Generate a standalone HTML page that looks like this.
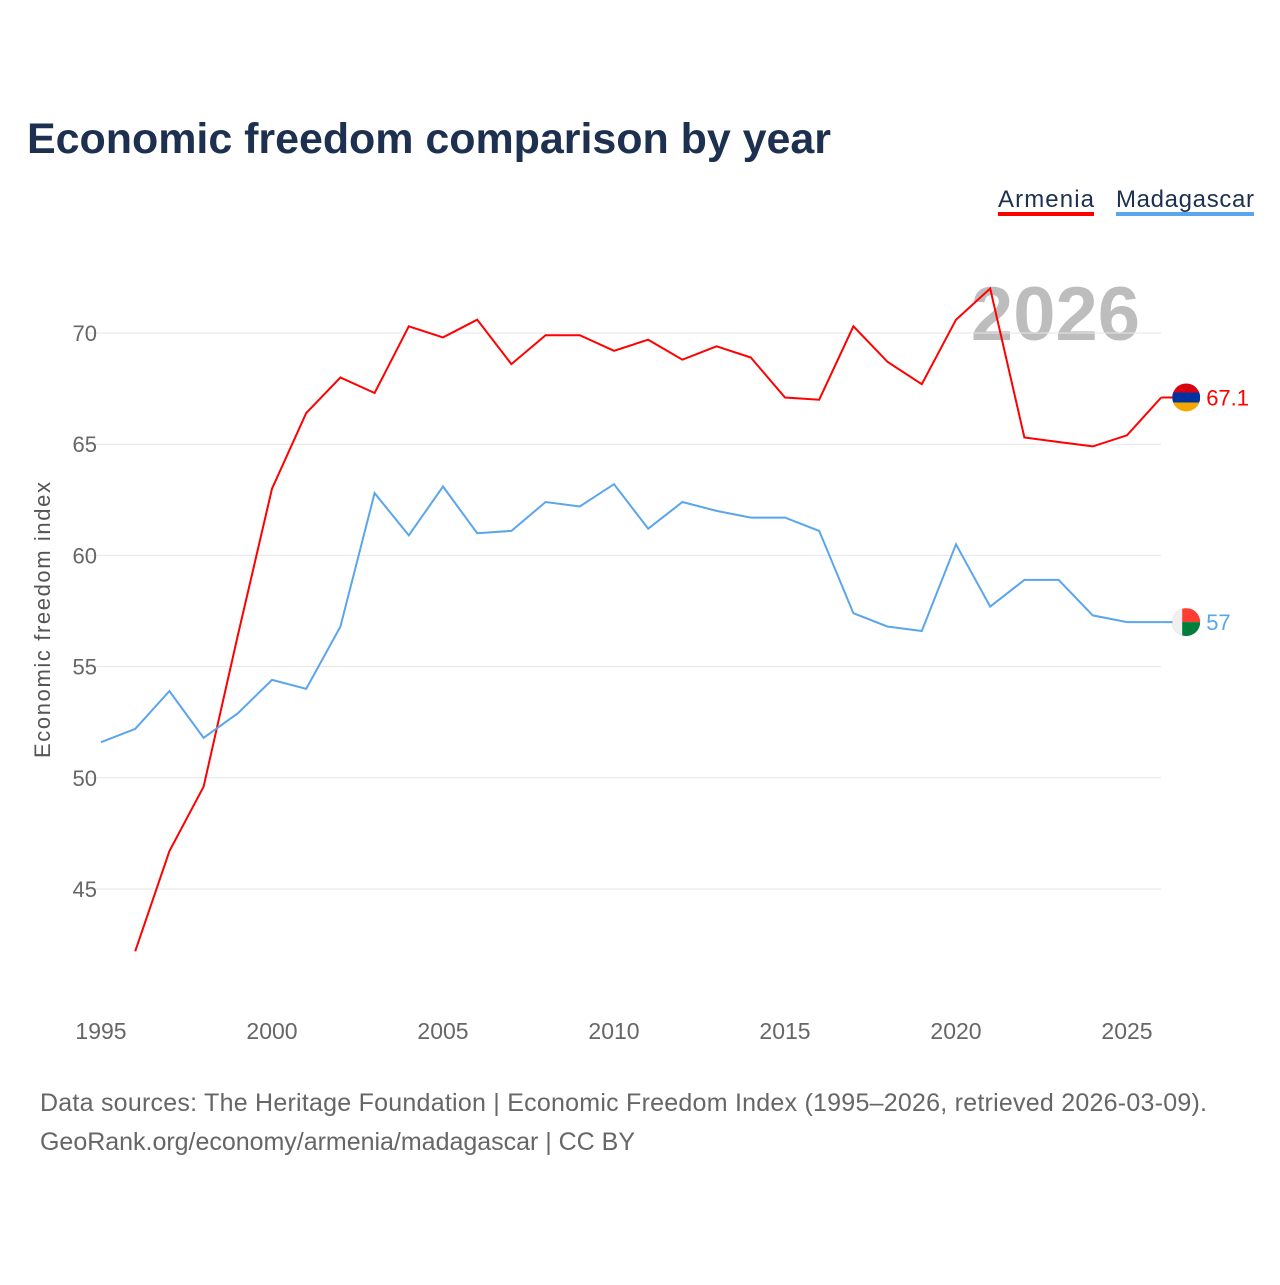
<!DOCTYPE html>
<html><head><meta charset="utf-8"><style>
body{margin:0;background:#fff;font-family:"Liberation Sans",sans-serif;}
</style></head><body>
<svg width="1280" height="1280" xmlns="http://www.w3.org/2000/svg">
<text x="27" y="153" font-size="43" font-weight="bold" fill="#1d3050" textLength="804">Economic freedom comparison by year</text>
<g>
<text x="998" y="207" font-size="24" fill="#1d3050" textLength="96">Armenia</text>
<rect x="998" y="212" width="96" height="4" fill="#ff0000"/>
<text x="1116" y="207" font-size="24" fill="#1d3050" textLength="138">Madagascar</text>
<rect x="1116" y="212" width="138" height="4" fill="#5aa5ec"/>
</g>
<text x="1140" y="340" font-size="76" font-weight="bold" fill="#bdbdbd" text-anchor="end">2026</text>
<g id="grid"></g><g id="xt"></g><g id="lines"></g>
<text transform="translate(50,620) rotate(-90)" font-size="22" fill="#555" text-anchor="middle" textLength="276">Economic freedom index</text>
<text x="40" y="1111" font-size="25" fill="#666" textLength="1167">Data sources: The Heritage Foundation | Economic Freedom Index (1995–2026, retrieved 2026-03-09).</text>
<text x="40" y="1150" font-size="25" fill="#666" textLength="595">GeoRank.org/economy/armenia/madagascar | CC BY</text>
</svg>
<script>
const years=[1995,1996,1997,1998,1999,2000,2001,2002,2003,2004,2005,2006,2007,2008,2009,2010,2011,2012,2013,2014,2015,2016,2017,2018,2019,2020,2021,2022,2023,2024,2025,2026];
const armenia=[null,42.2,46.7,49.6,56.4,63.0,66.4,68.0,67.3,70.3,69.8,70.6,68.6,69.9,69.9,69.2,69.7,68.8,69.4,68.9,67.1,67.0,70.3,68.7,67.7,70.6,72.0,65.3,65.1,64.9,65.4,67.1];
const madagascar=[51.6,52.2,53.9,51.8,52.9,54.4,54.0,56.8,62.8,60.9,63.1,61.0,61.1,62.4,62.2,63.2,61.2,62.4,62.0,61.7,61.7,61.1,57.4,56.8,56.6,60.5,57.7,58.9,58.9,57.3,57.0,57.0];
const yTicks=[45,50,55,60,65,70];
const xTicks=[1995,2000,2005,2010,2015,2020,2025];
const NS="http://www.w3.org/2000/svg";
const X=y=>101+(y-1995)*34.2;
const Y=v=>333+(70-v)*22.24;
function mk(t,a,p){const e=document.createElementNS(NS,t);for(const k in a)e.setAttribute(k,a[k]);p.appendChild(e);return e;}
const g=document.getElementById('grid');
yTicks.forEach(v=>{
const l=mk('line',{x1:85,x2:1161,y1:Y(v),y2:Y(v),stroke:'#e6e6e6'},g);


const t=mk('text',{x:97,y:Y(v)+8,'font-size':22,fill:'#666','text-anchor':'end'},g);
t.textContent=v;


});
const xt=document.getElementById('xt');
xTicks.forEach(v=>{
const t=mk('text',{x:X(v),y:1039,'font-size':23,fill:'#666','text-anchor':'middle'},xt);
t.textContent=v;


});
const L=document.getElementById('lines');
let cid=0;
function series(vals,color,name,flagFn){
let d='';vals.forEach((v,i)=>{if(v==null)return;d+=(d?'L':'M')+X(years[i]).toFixed(1)+','+Y(v).toFixed(1);});
const p=mk('path',{d:d,fill:'none',stroke:color,'stroke-width':2},L);


const lv=vals[vals.length-1],cx=X(years[years.length-1])+25,cy=Y(lv);
mk('line',{x1:cx-25,x2:cx,y1:cy,y2:cy,stroke:color,'stroke-width':2},L);
const f=mk('g',{},L);


const id='c'+(cid++);
const cp=mk('clipPath',{id:id},f);mk('circle',{cx:cx,cy:cy,r:14},cp);
const fg=mk('g',{'clip-path':'url(#'+id+')'},f);
flagFn(fg,cx,cy);
const t=mk('text',{x:cx+20,y:cy+8,'font-size':22,fill:color},L);
t.textContent=lv;


}
series(armenia,'#ff0000','armenia',(fg,cx,cy)=>{
mk('rect',{x:cx-14,y:cy-14,width:28,height:10,fill:'#d90012'},fg);
mk('rect',{x:cx-14,y:cy-5,width:28,height:10,fill:'#0033a0'},fg);
mk('rect',{x:cx-14,y:cy+5,width:28,height:10,fill:'#f2a800'},fg);});
series(madagascar,'#5aa5ec','madagascar',(fg,cx,cy)=>{
mk('rect',{x:cx-14,y:cy-14,width:28,height:14,fill:'#fc3d32'},fg);
mk('rect',{x:cx-14,y:cy,width:28,height:14,fill:'#007e3a'},fg);
mk('rect',{x:cx-14,y:cy-14,width:10,height:28,fill:'#f0f0f0'},fg);});
</script>
</body></html>
